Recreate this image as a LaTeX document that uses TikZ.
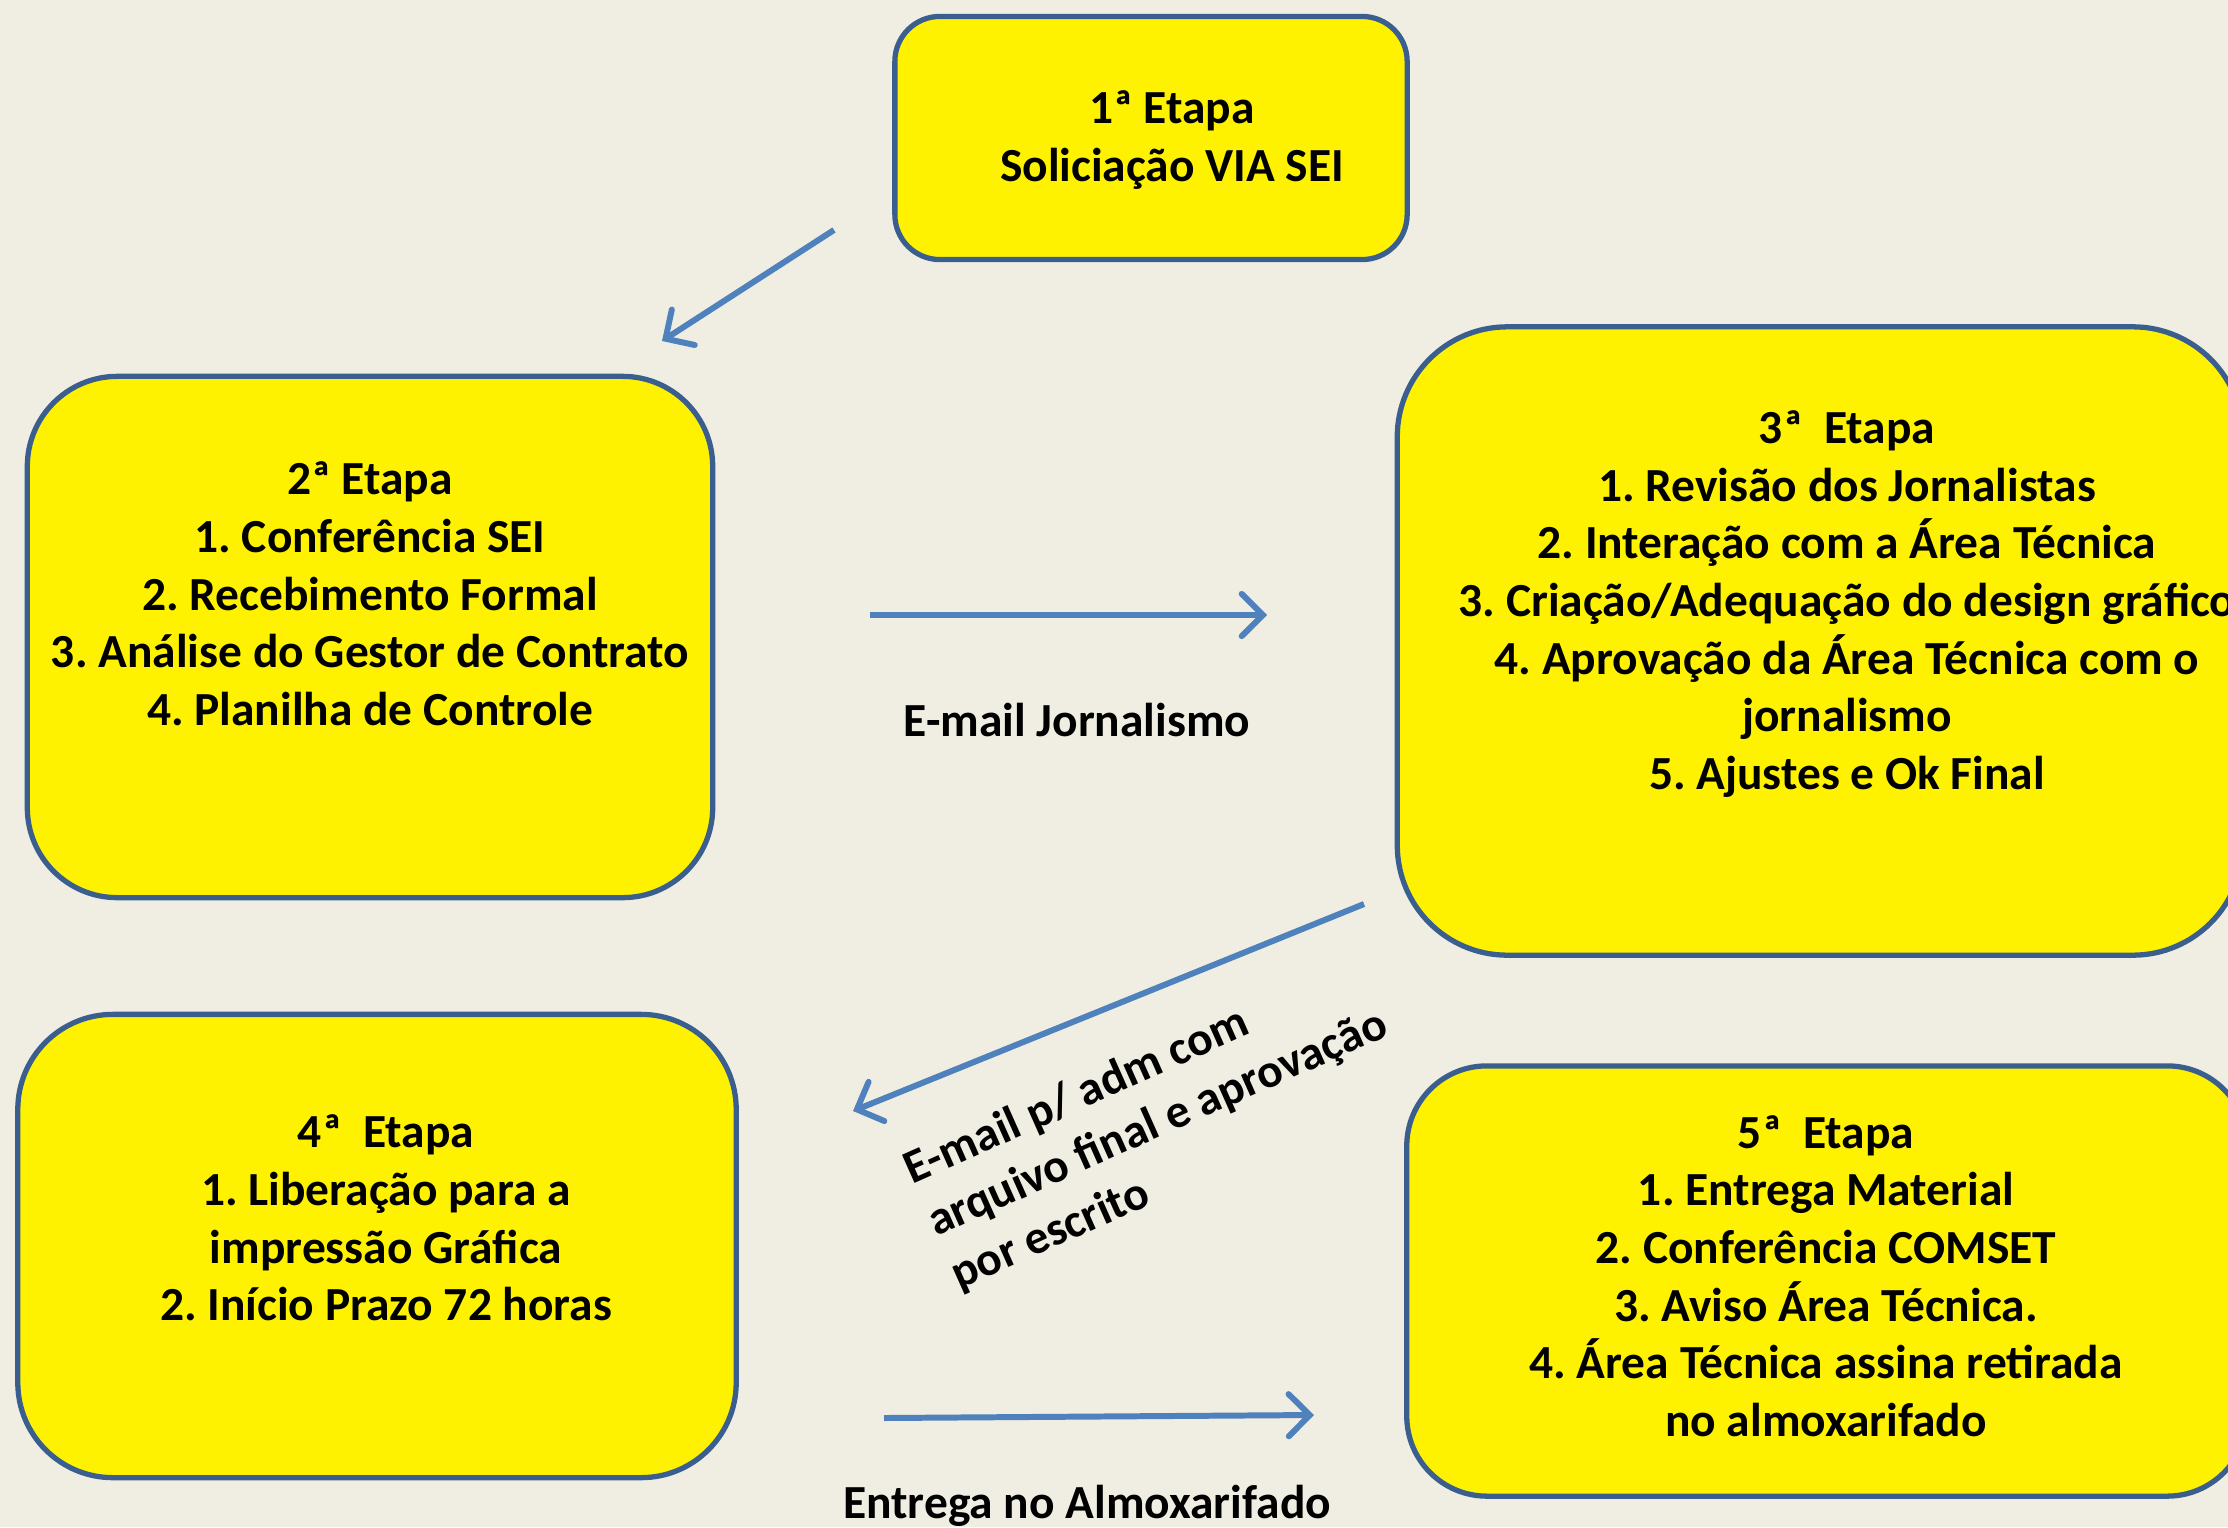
\documentclass[tikz,border=0pt]{standalone}
\usepackage{fontspec}
\setmainfont{Carlito}
\frenchspacing
\usetikzlibrary{arrows.meta}
\definecolor{paper}{HTML}{F0EEE2}
\definecolor{boxline}{HTML}{3A5F8E}
\definecolor{flow}{HTML}{4F81BD}
\tikzset{
  stage/.style={draw=boxline, line width=1.5pt, fill=yellow, rounded corners=#1},
  stage/.default=1cm,
  stagetext/.style={align=center, font=\fontsize{13.5}{16.4}\selectfont\bfseries},
  flowlabel/.style={font=\fontsize{13.5}{16.4}\selectfont\bfseries},
}
\begin{document}
\begin{tikzpicture}[x=0.01cm,y=-0.01cm]
      \useasboundingbox (0,0) rectangle (2228,1527);
      \clip (0,0) rectangle (2228,1527);
      \fill[paper] (0,0) rectangle (2228,1527);
      \node[stage=0.45cm, minimum width=5.12cm, minimum height=2.43cm] (b1) at (1151,138) {};
      \node[stage=0.9cm, minimum width=6.85cm, minimum height=5.21cm] (b2) at (370,637) {};
      \node[stage=1.1cm, minimum width=8.45cm, minimum height=6.28cm] (b3) at (1820,641) {};
      \node[stage=0.95cm, minimum width=7.18cm, minimum height=4.63cm] (b4) at (377,1246) {};
      \node[stage=0.8cm, minimum width=8.4cm, minimum height=4.3cm] (b5) at (1827,1281) {};
      \node[stagetext] (t1) at (1172,140) {1ª Etapa\\Soliciação VIA SEI};
      \node[stagetext] (t2) at (370,594) {2ª Etapa\\1. Conferência SEI\\2. Recebimento Formal\\3. Análise do Gestor de Contrato\\4. Planilha de Controle};
      \node[stagetext] (t3) at (1847,604) {3ª\ \ Etapa\\1. Revisão dos Jornalistas\\2. Interação com a Área Técnica\\3. Criação/Adequação do design gráfico\\4. Aprovação da Área Técnica com o\\jornalismo\\5. Ajustes e Ok Final};
      \node[stagetext] (t4) at (386,1218) {4ª\ \ Etapa\\1. Liberação para a\\impressão Gráfica\\2. Início Prazo 72 horas};
      \node[stagetext] (t5) at (1826,1276) {5ª\ \ Etapa\\1. Entrega Material\\2. Conferência COMSET\\3. Aviso Área Técnica.\\4. Área Técnica assina retirada\\no almoxarifado};
      \node[flowlabel] (l2) at (1077,720) {E-mail Jornalismo};
      \node[flowlabel, align=left, rotate=24] (l3) at (1158,1124) {E-mail p/ adm com\\arquivo final e aprovação\\por escrito};
      \node[flowlabel] (l4) at (1087,1506) {Entrega no Almoxarifado};
      \coordinate (a1) at (834,230);
      \coordinate (a1e) at (662,341);
      \coordinate (a2) at (870,615);
      \coordinate (a2e) at (1267,615);
      \coordinate (a3) at (1364,904);
      \coordinate (a3e) at (853,1111);
      \coordinate (a4) at (884,1418);
      \coordinate (a4e) at (1314,1415);
      \begin{scope}[draw=flow, line width=1.7pt, -{Straight Barb[length=6pt,width=12pt,line cap=round]}]
        \draw (a1) to (a1e);
        \draw (a2) to (a2e);
        \draw (a3) to (a3e);
        \draw (a4) to (a4e);
      \end{scope}
    \end{tikzpicture}
\end{document}
